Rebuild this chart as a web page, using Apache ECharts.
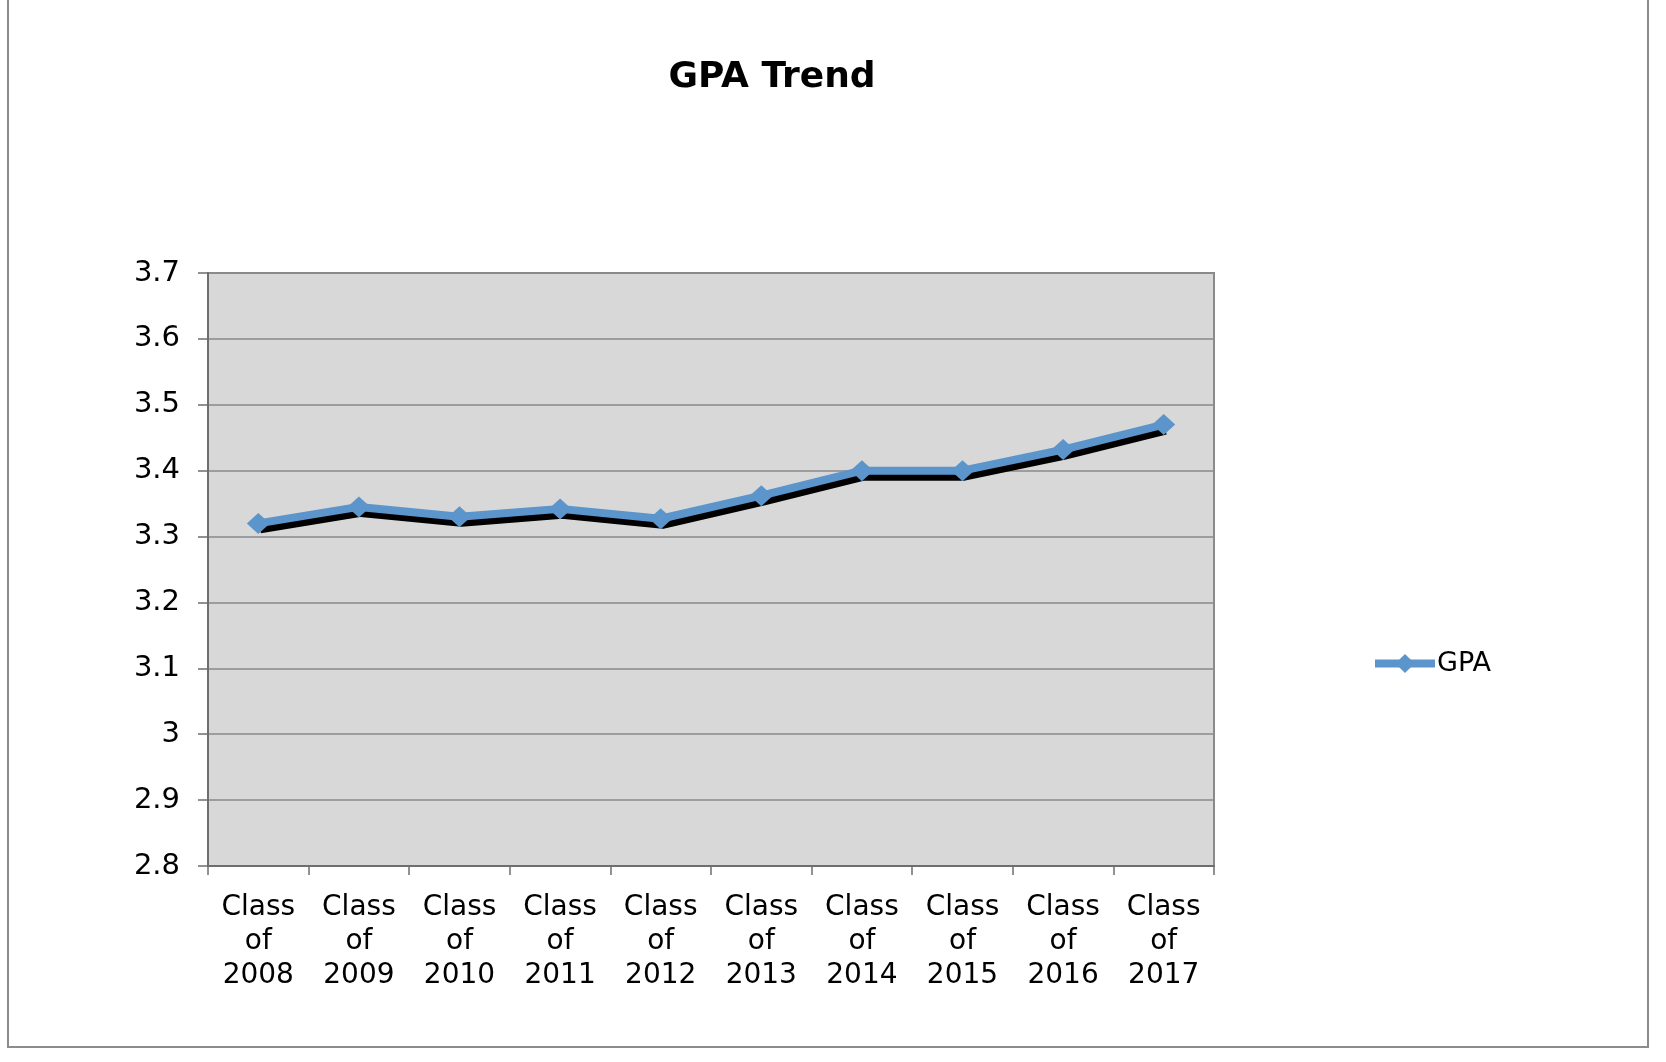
<!DOCTYPE html>
<html>
<head>
<meta charset="utf-8">
<title>GPA Trend</title>
<script src="https://cdn.jsdelivr.net/npm/echarts@6/dist/echarts.min.js"></script>
<style>
  html, body { margin: 0; padding: 0; background: #fff; }
  #chart { width: 1666px; height: 1062px; }
</style>
</head>
<body>
<div id="chart"></div>
<script>
var classes = ['2008', '2009', '2010', '2011', '2012', '2013', '2014', '2015', '2016', '2017'];
var gpa = [3.32, 3.345, 3.33, 3.342, 3.327, 3.362, 3.40, 3.40, 3.432, 3.47];
var yMin = 2.8;
var yMax = 3.7;
var yStep = 0.1;

var font = 'DejaVu Sans, Verdana, sans-serif';
var blue = '#5b95cb';
var chart = echarts.init(document.getElementById('chart'));

chart.setOption({
    animation: false,
    backgroundColor: '#ffffff',
    title: {
        text: 'GPA Trend',
        left: 767,
        top: 55,
        textAlign: 'center',
        textStyle: { fontFamily: font, fontSize: 36, fontWeight: 'bold', color: '#000' }
    },
    legend: {
        left: 1366,
        top: 645,
        itemWidth: 60,
        itemHeight: 24,
        textStyle: { fontFamily: font, fontSize: 27, color: '#000', padding: [0, 0, 0, -3] },
        lineStyle: { width: 8, shadowColor: 'transparent', shadowOffsetX: 0, shadowOffsetY: 0 },
        data: ['GPA']
    },
    grid: {
        left: 208,
        top: 273,
        width: 1006,
        height: 593,
        show: true,
        backgroundColor: '#d8d8d8',
        borderColor: '#8a8a8a',
        borderWidth: 2,
        outerBoundsMode: 'none'
    },
    xAxis: {
        type: 'category',
        data: classes.map(function (c) { return 'Class\nof\n' + c; }),
        boundaryGap: true,
        axisLine: { lineStyle: { color: '#6e6e6e', width: 2 } },
        axisTick: { show: true, length: 9, lineStyle: { color: '#6e6e6e', width: 1.5 } },
        axisLabel: { fontFamily: font, fontSize: 28, lineHeight: 34, color: '#000', margin: 25, interval: 0 },
        splitLine: { show: false }
    },
    yAxis: {
        type: 'value',
        min: yMin,
        max: yMax,
        interval: yStep,
        axisLine: { show: true, lineStyle: { color: '#6e6e6e', width: 2 } },
        axisTick: { show: true, length: 10, lineStyle: { color: '#6e6e6e', width: 1.5 } },
        axisLabel: {
            fontFamily: font, fontSize: 29, color: '#000', margin: 28,
            formatter: function (v) { return String(parseFloat(v.toFixed(1))); }
        },
        splitLine: { show: true, lineStyle: { color: '#8a8a8a', width: 1.5 } }
    },
    graphic: [{
        type: 'rect',
        shape: { x: 8, y: -4, width: 1640, height: 1051 },
        style: { fill: 'none', stroke: '#8c8c8c', lineWidth: 2 },
        silent: true
    }],
    series: [{
        name: 'GPA',
        type: 'line',
        data: gpa,
        symbol: 'diamond',
        symbolSize: [23, 21],
        itemStyle: { color: blue },
        lineStyle: {
            color: blue,
            width: 8,
            shadowColor: '#000',
            shadowBlur: 0,
            shadowOffsetX: 2,
            shadowOffsetY: 6
        }
    }]
});
</script>
</body>
</html>
